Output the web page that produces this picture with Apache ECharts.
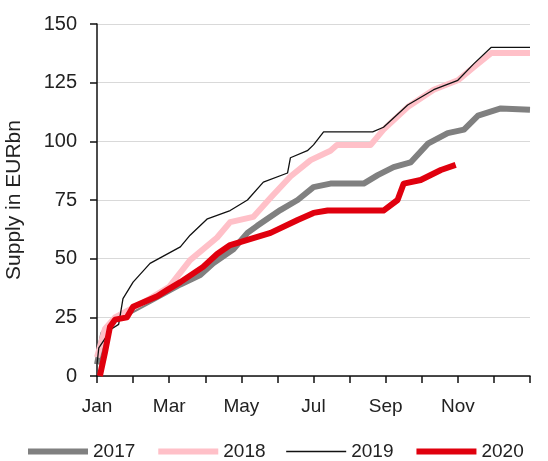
<!DOCTYPE html>
<html>
<head>
<meta charset="utf-8">
<style>
  html, body { margin: 0; padding: 0; background: #fff; }
  #chart { width: 548px; height: 461px; }
</style>
<script src="https://cdn.jsdelivr.net/npm/echarts@6/dist/echarts.min.js"></script>
</head>
<body>
<div id="chart"></div>
<script>
// x = months since 1 Jan, y = cumulative supply (EUR bn)
const monthLabels = ['Jan', '', 'Mar', '', 'May', '', 'Jul', '', 'Sep', '', 'Nov', '', '']
const yTicks = [0, 25, 50, 75, 100, 125, 150]

const supply2017 = [
  [0, 5], [0.17, 18], [0.5, 24], [1.47, 32], [2.31, 39], [2.86, 43], [3.22, 48],
  [3.78, 54], [4.17, 61], [4.44, 64], [5.08, 70.7], [5.56, 75], [6.0, 80.5],
  [6.47, 82], [7.39, 82], [7.78, 85.6], [8.22, 89], [8.69, 91], [9.17, 99],
  [9.72, 103.5], [10.17, 105], [10.56, 111], [11.19, 114], [12, 113.5]
]
const supply2018 = [
  [0, 8], [0.22, 20], [0.5, 25], [1.47, 33], [2.0, 38], [2.58, 49.4], [3.33, 59],
  [3.69, 65.6], [4.33, 67.8], [4.81, 76], [5.36, 85], [5.92, 92], [6.47, 96],
  [6.65, 98.4], [7.58, 98.4], [7.94, 105], [8.61, 114.6], [9.33, 122], [10.0, 126],
  [10.44, 131.6], [10.92, 137.6], [12, 137.6]
]
const supply2019 = [
  [0, 5], [0.05, 12], [0.4, 20], [0.6, 22], [0.72, 33], [1.0, 40], [1.47, 48],
  [2.31, 55], [2.58, 60], [3.06, 67], [3.69, 70.5], [4.17, 75], [4.61, 82.6],
  [5.28, 86.5], [5.36, 93], [5.83, 96], [6.0, 98.5], [6.28, 104], [7.64, 104],
  [7.94, 106], [8.61, 115.5], [9.33, 122], [10.0, 126], [10.44, 133],
  [10.92, 140], [12, 140]
]
const supply2020 = [
  [0.08, 0], [0.22, 10], [0.36, 21], [0.5, 24], [0.83, 25], [1.0, 29.5],
  [1.67, 34], [1.94, 36.6], [2.31, 40], [2.94, 46.5], [3.33, 52], [3.69, 55.8],
  [4.81, 61], [5.56, 66.5], [6.0, 69.5], [6.39, 70.5], [7.94, 70.5], [8.33, 75],
  [8.5, 82], [8.97, 83.5], [9.53, 87.8], [9.94, 90]
]

const fontFamily = '"Liberation Sans", Arial, sans-serif'
const chart = echarts.init(document.getElementById('chart'))

const lineSeries = (name, data, color, width, z) => ({
  name,
  type: 'line',
  data,
  symbol: 'none',
  z,
  lineStyle: { color, width, join: 'round' },
  itemStyle: { color }
})

chart.setOption({
  animation: false,
  textStyle: { fontFamily },
  grid: { left: 97, right: 18, top: 24, bottom: 85, outerBoundsMode: 'none' },
  legend: {
    left: 20,
    top: 437,
    itemWidth: 60,
    itemHeight: 14,
    itemGap: 20,
    itemStyle: { opacity: 0 },
    lineStyle: { width: 'inherit' },
    textStyle: { fontSize: 19, color: '#222', fontFamily },
    data: ['2017', '2018', '2019', '2020']
  },
  xAxis: {
    type: 'value',
    min: 0,
    max: 12,
    interval: 1,
    axisLine: { lineStyle: { color: '#111', width: 1.5 } },
    axisTick: { length: 7, lineStyle: { color: '#111', width: 1.5 } },
    splitLine: { show: false },
    axisLabel: {
      margin: 21,
      fontSize: 19,
      color: '#222',
      formatter: v => monthLabels[Math.round(v)] || ''
    }
  },
  yAxis: {
    type: 'value',
    min: yTicks[0],
    max: yTicks[yTicks.length - 1],
    interval: 25,
    name: 'Supply in EURbn',
    nameLocation: 'middle',
    nameGap: 72,
    nameTextStyle: { fontSize: 21, color: '#222', fontFamily },
    axisLine: { show: true, lineStyle: { color: '#111', width: 1.5 } },
    axisTick: { show: true, length: 7, lineStyle: { color: '#111', width: 1.5 } },
    splitLine: { lineStyle: { color: '#d9d9d9', width: 1 } },
    axisLabel: { margin: 20, fontSize: 20, color: '#222' }
  },
  series: [
    lineSeries('2017', supply2017, '#808080', 6, 3),
    lineSeries('2018', supply2018, '#ffc0c8', 6, 3),
    lineSeries('2019', supply2019, '#111111', 1.3, 4),
    lineSeries('2020', supply2020, '#e0000e', 6, 5)
  ]
})
</script>
</body>
</html>
